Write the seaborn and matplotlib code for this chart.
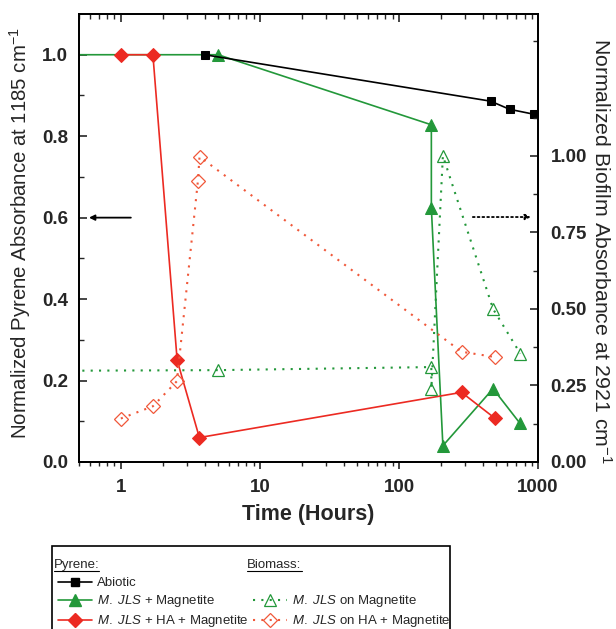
import matplotlib
matplotlib.use("Agg")
import numpy as np
import pandas as pd
import seaborn as sns
import matplotlib.pyplot as plt
from matplotlib.lines import Line2D
from matplotlib.patches import Rectangle
from matplotlib.ticker import FixedLocator, NullFormatter, LogLocator

# ---------------- data ----------------
abiotic_t = [4.0, 456, 625, 930]
abiotic_y = [1.0, 0.886, 0.866, 0.854]

jls_mag_t = [0.1, 5.0, 171, 171, 207, 475, 738]
jls_mag_y = [1.0, 1.0, 0.828, 0.624, 0.04, 0.18, 0.096]

jls_ha_t = [1.0, 1.7, 2.54, 3.67, 282, 487]
jls_ha_y = [1.0, 1.0, 0.25, 0.06, 0.171, 0.108]

bio_mag_t = [0.1, 5.0, 171, 171, 207, 475, 746]
bio_mag_y = [0.297, 0.30, 0.31, 0.24, 1.0, 0.50, 0.354]

bio_ha_t = [1.0, 1.7, 2.53, 3.58, 3.68, 282, 487]
bio_ha_y = [0.142, 0.182, 0.264, 0.917, 0.997, 0.36, 0.343]

left_ticks = [0.0, 0.2, 0.4, 0.6, 0.8, 1.0]
right_ticks = [0.0, 0.25, 0.5, 0.75, 1.0]
x_ticks = [1, 10, 100, 1000]
x_ticklabels = ["1", "10", "100", "1000"]

BLACK = "#000000"
GREEN = "#23983a"
RED = "#ec2a22"
RED_L = "#f0583a"

# ---------------- style ----------------
sns.set_style("ticks")
plt.rcParams["font.family"] = ["Liberation Sans", "DejaVu Sans"]
plt.rcParams["mathtext.fontset"] = "custom"
plt.rcParams["mathtext.rm"] = "Liberation Sans"
plt.rcParams["mathtext.it"] = "Liberation Sans:italic"
plt.rcParams["mathtext.bf"] = "Liberation Sans:bold"

fig = plt.figure(figsize=(6.16, 6.29), dpi=100)
ax = fig.add_axes([79 / 616, 1 - 462 / 629, (538 - 79) / 616, (462 - 14) / 629])
ax2 = ax.twinx()

# ---------------- series ----------------
sns.lineplot(x=jls_mag_t, y=jls_mag_y, ax=ax, color=GREEN, marker="^", markersize=8,
             markeredgecolor=GREEN, lw=1.2, sort=False, estimator=None, legend=False)
sns.lineplot(x=jls_ha_t, y=jls_ha_y, ax=ax, color=RED, marker="D", markersize=7,
             markeredgecolor=RED, lw=1.2, sort=False, estimator=None, legend=False)
sns.lineplot(x=abiotic_t, y=abiotic_y, ax=ax, color=BLACK, marker="s", markersize=6,
             markeredgecolor=BLACK, lw=1.2, sort=False, estimator=None, legend=False)

sns.lineplot(x=bio_mag_t, y=bio_mag_y, ax=ax2, color=GREEN, marker="^", markersize=8,
             markerfacecolor="none", markeredgecolor=GREEN, markeredgewidth=0.9,
             lw=1.5, linestyle=(0, (1, 3)), sort=False, estimator=None, legend=False)
sns.lineplot(x=bio_ha_t, y=bio_ha_y, ax=ax2, color=RED_L, marker="D", markersize=7,
             markerfacecolor="none", markeredgecolor=RED_L, markeredgewidth=0.9,
             lw=1.5, linestyle=(0, (1, 3)), sort=False, estimator=None, legend=False)

# arrows
ax.annotate("", xy=(0.59, 0.6), xytext=(1.18, 0.6),
            arrowprops=dict(arrowstyle="-|>", color="black", lw=1.3,
                            mutation_scale=8, shrinkA=0, shrinkB=0))
ax2.annotate("", xy=(890, 0.80), xytext=(340, 0.80),
             arrowprops=dict(arrowstyle="-|>", color="black", lw=1.3, linestyle=":",
                             mutation_scale=8, shrinkA=0, shrinkB=0))

# ---------------- axes ----------------
ax.set_xscale("log")
ax.set_xlim(0.5, 1000)
ax.set_ylim(0, 1.1)
ax2.set_ylim(0, 1.463)

ax.set_xticks(x_ticks)
ax.set_xticklabels(x_ticklabels)
ax.xaxis.set_minor_locator(LogLocator(base=10, subs=np.arange(2, 10)))
ax.xaxis.set_minor_formatter(NullFormatter())

ax.set_yticks(left_ticks)
ax.set_yticklabels([f"{v:.1f}" for v in left_ticks])
ax.yaxis.set_minor_locator(FixedLocator([0.1, 0.3, 0.5, 0.7, 0.9]))

ax2.set_yticks(right_ticks)
ax2.set_yticklabels([f"{v:.2f}" for v in right_ticks])
ax2.yaxis.set_minor_locator(FixedLocator([0.125, 0.375, 0.625, 0.875, 1.125, 1.375]))

for a in (ax, ax2):
    for s in a.spines.values():
        s.set_visible(True)
        s.set_linewidth(1.3)
        s.set_color("black")

TL = 13.5
ax.tick_params(axis="x", which="major", direction="out", length=5, width=1.2,
               bottom=True, top=False, labelsize=TL, pad=7)
ax.tick_params(axis="x", which="minor", direction="out", length=3, width=1.0,
               bottom=True, top=False)
ax.tick_params(axis="y", which="major", direction="in", length=6, width=1.2,
               left=True, right=False, labelsize=TL, pad=8)
ax.tick_params(axis="y", which="minor", direction="in", length=3.5, width=1.0,
               left=True, right=False)
ax2.tick_params(axis="y", which="major", direction="in", length=6, width=1.2,
                right=True, left=False, labelsize=TL, pad=9)
ax2.tick_params(axis="y", which="minor", direction="in", length=3.5, width=1.0,
                right=True, left=False)
# top ticks (inward) via twin axes' x axis
ax2.xaxis.set_visible(True)
ax2.tick_params(axis="x", which="major", direction="in", length=6, width=1.2,
                top=True, bottom=False, labeltop=False, labelbottom=False)
ax2.tick_params(axis="x", which="minor", direction="in", length=3.5, width=1.0,
                top=True, bottom=False, labeltop=False, labelbottom=False)

for lab in ax.get_xticklabels() + ax.get_yticklabels() + ax2.get_yticklabels():
    lab.set_fontweight("bold")

ax.set_xlabel("Time (Hours)", fontsize=15.5, fontweight="bold", labelpad=6)
ax.set_ylabel("Normalized Pyrene Absorbance at 1185 cm$^{-1}$", fontsize=14.7, labelpad=6)
ax2.set_ylabel("Normalized Biofilm Absorbance at 2921 cm$^{-1}$", fontsize=15.3,
               rotation=270, labelpad=18)
ax.yaxis.label.set_y(0.511)
ax2.yaxis.label.set_y(0.472)

# ---------------- legend ----------------
blank = Line2D([], [], linestyle="none", marker=None)
h_abi = Line2D([], [], color=BLACK, marker="s", markersize=6, lw=1.2)
h_mag = Line2D([], [], color=GREEN, marker="^", markersize=8, lw=1.2)
h_ha = Line2D([], [], color=RED, marker="D", markersize=7, lw=1.2)
h_bmag = Line2D([], [], color=GREEN, marker="^", markersize=8, markerfacecolor="none",
                markeredgewidth=0.9, lw=1.5, linestyle=(0, (1, 3)))
h_bha = Line2D([], [], color=RED_L, marker="D", markersize=7, markerfacecolor="none",
               markeredgewidth=0.9, lw=1.5, linestyle=(0, (1, 3)))

handles = [blank, h_abi, h_mag, h_ha, blank, blank, h_bmag, h_bha]
labels = [" ", "Abiotic", r"$\it{M.}$ $\it{JLS}$ + Magnetite",
          r"$\it{M.}$ $\it{JLS}$ + HA + Magnetite",
          " ", " ", r"$\it{M.}$ $\it{JLS}$ on Magnetite",
          r"$\it{M.}$ $\it{JLS}$ on HA + Magnetite"]
LF = 9.5
leg = fig.legend(handles, labels, ncol=2, loc="upper left",
                 bbox_to_anchor=(58 / 616, 1 - 561 / 629), frameon=False,
                 fontsize=LF, handlelength=2.6, handletextpad=0.38, columnspacing=0.3,
                 labelspacing=0.3, borderpad=0, borderaxespad=0)
fig.add_artist(Rectangle((52 / 616, -0.05), (450 - 52) / 616, (1 - 546 / 629) + 0.05,
                         transform=fig.transFigure, fill=False, edgecolor="black",
                         lw=1.2, zorder=1))

fig.canvas.draw()
renderer = fig.canvas.get_renderer()
texts = leg.get_texts()
lh = leg.legend_handles
y1 = texts[1].get_window_extent(renderer)
y2 = texts[2].get_window_extent(renderer)
step = (y1.y0 + y1.y1) / 2 - (y2.y0 + y2.y1) / 2
yc = (y1.y0 + y1.y1) / 2 + step
for txt, hidx in (("Pyrene:", 1), ("Biomass:", 6)):
    hb = lh[hidx].get_window_extent(renderer)
    t = fig.text(hb.x0 / fig.bbox.width, yc / fig.bbox.height, txt, fontsize=LF,
                 va="center", ha="left", zorder=20)
    bb = t.get_window_extent(renderer)
    y = bb.y0 + 0.5
    fig.add_artist(Line2D([bb.x0, bb.x1], [y, y], transform=None, color="black",
                          lw=0.8, zorder=20))

fig.savefig("out.png", dpi=100)
